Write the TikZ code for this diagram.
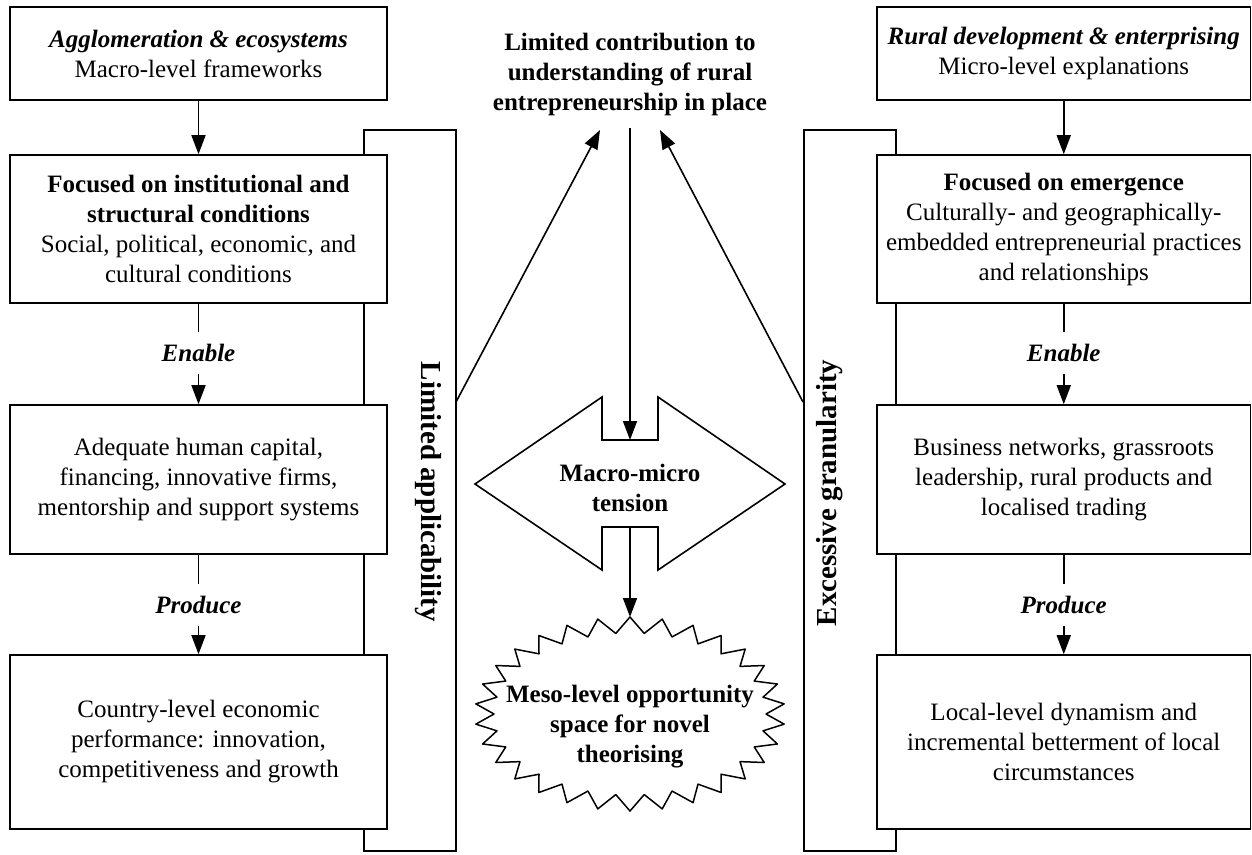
\documentclass[tikz,border=0pt]{standalone}
\usepackage{fontspec}
\setmainfont{Liberation Serif}
\usetikzlibrary{arrows.meta,calc}
\begin{document}
\begin{tikzpicture}[x=1pt,y=-1pt, line width=1.6pt,
  box/.style={draw, fill=white, minimum width=377pt, align=center, inner sep=0pt, font=\fontsize{25}{30}\selectfont},
  rbox/.style={box, minimum width=373.5pt},
  verb/.style={font=\fontsize{25}{30}\selectfont\bfseries\itshape, minimum height=40pt, inner sep=0pt},
  arr/.style={-{Triangle[length=19pt,width=14pt]}},
  lab/.style={align=center, font=\fontsize{25}{30}\selectfont\bfseries},
  side/.style={font=\fontsize{29}{34}\selectfont\bfseries, inner sep=0pt},
  tall/.style={draw, minimum width=92pt, minimum height=721pt, inner sep=0pt},
]
\useasboundingbox (0,0) rectangle (1252,854);

% tall side rectangles
\node[tall] (lrect) at (410,490.5) {};
\node[tall] (rrect) at (850,490.5) {};

% left column
\node[box, minimum height=93pt] (l1) at (198.5,53.5) {\textbf{\textit{Agglomeration \& ecosystems}}\\Macro-level frameworks};
\node[box, minimum height=148pt] (l2) at (198.5,229) {\textbf{Focused on institutional and}\\\textbf{structural conditions}\\Social, political, economic, and\\cultural conditions};
\node[box, minimum height=149pt] (l3) at (198.5,479.5) {Adequate human capital,\\financing, innovative firms,\\mentorship and support systems};
\node[box, minimum height=174pt] (l4) at (198.5,742) {Country-level economic\\performance: innovation,\\competitiveness and growth};
\node[verb] (le) at (198.5,353) {Enable};
\node[verb] (lp) at (198.5,605) {Produce};
\draw[arr] (l1) -- (l2);
\draw (l2) -- (le);
\draw[arr] (le) -- (l3);
\draw (l3) -- (lp);
\draw[arr] (lp) -- (l4);

% right column
\node[rbox, minimum height=93pt] (r1) at (1063.75,53.5) {\textbf{\textit{Rural development \& enterprising}}\\Micro-level explanations};
\node[rbox, minimum height=148pt] (r2) at (1063.75,229) {\textbf{Focused on emergence}\\Culturally- and geographically-\\embedded entrepreneurial practices\\and relationships};
\node[rbox, minimum height=149pt] (r3) at (1063.75,479.5) {Business networks, grassroots\\leadership, rural products and\\localised trading};
\node[rbox, minimum height=174pt] (r4) at (1063.75,742) {Local-level dynamism and\\incremental betterment of local\\circumstances};
\node[verb] (re) at (1063.75,353) {Enable};
\node[verb] (rp) at (1063.75,605) {Produce};
\draw[arr] (r1) -- (r2);
\draw (r2) -- (re);
\draw[arr] (re) -- (r3);
\draw (r3) -- (rp);
\draw[arr] (rp) -- (r4);

% side labels
\node[side, rotate=-90] (lapp) at (428,492) {Limited applicability};
\node[side, rotate=90] (rgran) at (830,493) {Excessive granularity};

% centre
\node[lab] (title) at (630,74) {Limited contribution to\\understanding of rural\\entrepreneurship in place};

\draw[line join=miter] (475,484) -- (602,397) -- (602,440) -- (658,440) -- (658,397) -- (785,484)
  -- (658,570) -- (658,527) -- (602,527) -- (602,570) -- cycle;
\node[lab] (mm) at (630,488) {Macro-micro\\tension};

\coordinate (sbc) at (630,714);
\draw[line width=1.5pt, line join=round, fill=white] ($(sbc)+(270:155 and 97)$)
  \foreach \k in {0,...,29} { -- ($(sbc)+({270+(\k+0.5)*360/30}:136 and 81)$) -- ($(sbc)+({270+(\k+1)*360/30}:155 and 97)$) } -- cycle;
\node[lab] (meso) at (630,727) {Meso-level opportunity\\space for novel\\theorising};

\coordinate (ct) at (630,128);
\coordinate (nt) at (630,440);
\coordinate (nb) at (630,527);
\coordinate (sbtop) at (630,617);
\draw[arr] (ct) -- (nt);
\draw[arr] (nb) -- (sbtop);

\coordinate (la) at (456,402);
\coordinate (lt) at (600,130);
\coordinate (ra) at (803,402);
\coordinate (rt) at (660,130);
\draw[arr] (la) -- (lt);
\draw[arr] (ra) -- (rt);
\end{tikzpicture}
\end{document}
